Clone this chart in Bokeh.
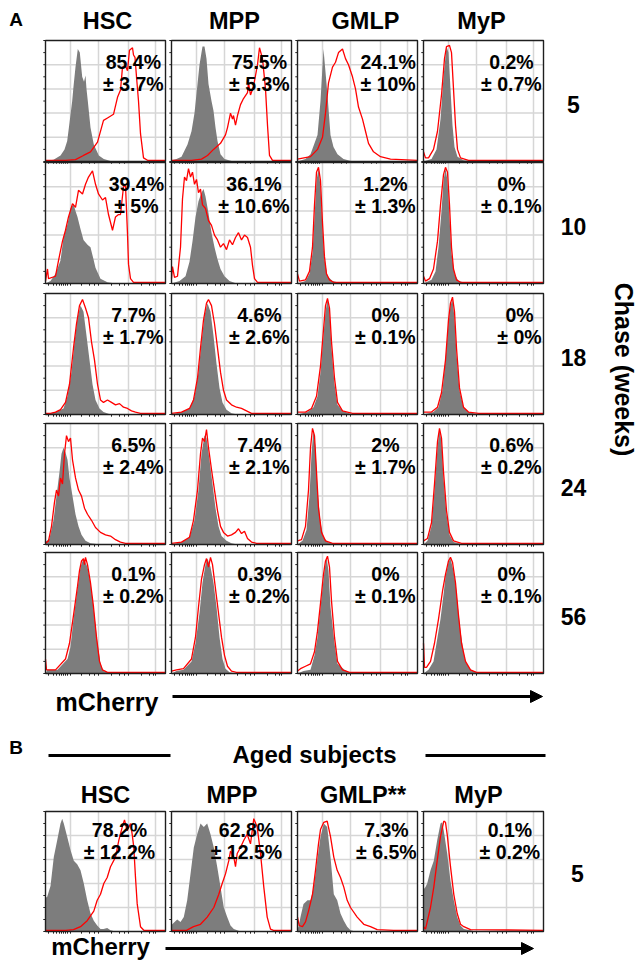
import math
from bokeh.plotting import figure
from bokeh.models import Range1d, Arrow, NormalHead
from bokeh.core.properties import value
from bokeh.embed import file_html
from bokeh.resources import INLINE

# ---------------- data ----------------
populations = ["HSC", "MPP", "GMLP", "MyP"]
aged_populations = ["HSC", "MPP", "GMLP**", "MyP"]
chase_weeks = [5, 10, 18, 24, 56]
aged_weeks = [5]

mean_5 = [85.4, 75.5, 24.1, 0.2];  sd_5 = [3.7, 5.3, 10, 0.7]
mean_10 = [39.4, 36.1, 1.2, 0];    sd_10 = [5, 10.6, 1.3, 0.1]
mean_18 = [7.7, 4.6, 0, 0];        sd_18 = [1.7, 2.6, 0.1, 0]
mean_24 = [6.5, 7.4, 2, 0.6];      sd_24 = [2.4, 2.1, 1.7, 0.2]
mean_56 = [0.1, 0.3, 0, 0];        sd_56 = [0.2, 0.2, 0.1, 0.1]
mean_aged = [78.2, 62.8, 7.3, 0.1]; sd_aged = [12.2, 12.5, 6.5, 0.2]

# histograms: (channel 0-120 on logicle axis, % of max count)
HSC_5_ctrl = [(0,0.5),(8,1.5),(15,5),(19,10),(21.7,17),(24,32),(26.7,50),(28,62),(30,78),(32.3,93),(34.3,90),(35.5,80),(36.7,70),(38.5,66),(40,71),(41,60),(42.3,50),(45,28),(48.3,14),(53.3,5),(58.3,2),(65,0.5),(75,0)]
HSC_5_mch = [(0,1),(20,1),(30,1.5),(38,5),(45,8),(52,16),(56,28),(58,34),(62,36),(68,39),(72,53),(75,59),(77,78),(80,79),(82,75),(84,92),(87,94),(88,88),(89.5,86),(91,70),(93,50),(95,23),(98,3),(102,1),(120,1)]
MPP_5_ctrl = [(0,1),(5,2),(10,4),(16,14),(20,25),(23,40),(26,64),(28,80),(30,90),(31,95),(33,95),(35,85),(37,64),(40,50),(42,42),(44,28),(46,17),(49,6),(53,2),(60,0.5),(70,0)]
MPP_5_mch = [(0,1),(20,1),(30,2),(36,5),(42,10),(49,15),(54,22),(56,28),(59,40),(61,35),(62,38),(64,30),(66,38),(69,47),(72,52),(76,57),(77,65),(79,55),(82,62),(86,80),(88,94),(91,85),(94,60),(96,30),(98,5),(101,1),(120,1)]
GMLP_5_ctrl = [(0,0),(8,2),(13,6),(20,22),(23,50),(26,93),(30,55),(33,22),(36,12),(40,6),(46,2),(55,0)]
GMLP_5_mch = [(0,2),(13,4),(20,10),(25,20),(28,40),(31,65),(35,78),(38,82),(41,90),(45,93),(48,85),(51,80),(55,70),(58,60),(61,45),(65,35),(68,25),(71,15),(76,8),(83,4),(93,2),(120,1)]
MyP_5_ctrl = [(0,0),(8,2),(13,10),(17,35),(20,70),(23,95),(25,90),(27,60),(29,30),(31,12),(34,4),(40,1),(50,0)]
MyP_5_mch = [(0,8),(2,3),(5,3),(10,10),(14,25),(18,55),(21,85),(23,95),(26,96),(28,90),(30,60),(32,30),(34,10),(37,3),(45,1),(120,1)]

HSC_10_ctrl = [(0,0),(5,2),(10,8),(15,19),(18,38),(22,49),(25,62),(28,66),(30,60),(32,55),(35,45),(38,36),(42,32),(45,30),(48,20),(50,13),(55,4),(62,1),(70,0)]
HSC_10_mch = [(0,2),(2,12),(3,4),(10,6),(13,19),(17,35),(20,44),(23,55),(27,66),(30,63),(33,77),(37,74),(40,82),(43,88),(47,93),(50,82),(53,74),(57,69),(60,71),(63,57),(67,44),(70,55),(73,57),(75,57),(78,80),(80,81),(82,41),(83,16),(85,4),(88,1),(120,1)]
MPP_10_ctrl = [(0,0),(8,2),(14,6),(18,18),(21,35),(24,55),(27,68),(30,75),(32,78),(34,72),(37,58),(40,42),(43,30),(46,20),(49,12),(53,6),(58,2),(65,0)]
MPP_10_mch = [(0,4),(1,14),(3,5),(6,6),(9,30),(11,70),(13,88),(15,85),(17,95),(19,88),(21,92),(23,82),(25,86),(27,75),(29,78),(31,65),(34,62),(37,52),(40,48),(43,40),(46,36),(49,30),(52,33),(55,28),(58,36),(61,32),(64,38),(67,42),(70,36),(73,40),(76,38),(79,30),(81,15),(83,4),(86,1),(120,1)]
GMLP_10_ctrl = [(0,0),(8,2),(12,8),(15,25),(17,55),(19,85),(21,95),(23,80),(25,45),(27,20),(30,6),(35,2),(45,0)]
GMLP_10_mch = [(0,8),(2,2),(8,3),(12,10),(15,30),(17,65),(19,92),(21,96),(23,85),(25,50),(27,22),(29,8),(32,3),(36,1),(120,1)]
MyP_10_ctrl = [(0,0),(8,3),(12,10),(15,30),(18,60),(20,85),(22,95),(24,85),(26,55),(28,25),(31,8),(35,2),(45,0)]
MyP_10_mch = [(0,6),(2,2),(6,4),(10,12),(14,35),(17,65),(20,90),(22,96),(24,92),(26,65),(28,30),(30,12),(33,3),(37,1),(120,1)]

HSC_18_ctrl = [(0,0),(10,2),(18,5),(22,15),(26,35),(29,60),(32,80),(35,90),(38,85),(41,65),(44,45),(47,25),(50,12),(54,5),(58,2),(65,0)]
HSC_18_mch = [(0,1),(5,1),(10,2),(15,4),(20,10),(24,25),(28,55),(31,75),(34,90),(37,95),(40,88),(43,80),(46,60),(49,45),(52,25),(55,12),(58,10),(62,12),(66,10),(70,8),(74,9),(78,6),(82,5),(86,3),(90,2),(95,1),(120,1)]
MPP_18_ctrl = [(0,0),(10,2),(18,5),(23,15),(27,35),(30,60),(33,82),(36,92),(39,85),(42,65),(45,42),(48,22),(51,10),(55,4),(60,1),(66,0)]
MPP_18_mch = [(0,1),(10,2),(18,5),(22,12),(26,30),(29,55),(32,78),(35,92),(37,95),(40,90),(43,75),(46,55),(49,35),(52,20),(55,12),(60,8),(65,6),(70,5),(75,3),(80,1),(120,1)]
GMLP_18_ctrl = [(0,0),(10,2),(16,6),(20,15),(23,35),(26,65),(28,85),(30,95),(32,85),(34,55),(37,25),(40,8),(45,3),(55,0)]
GMLP_18_mch = [(0,2),(8,2),(14,5),(19,15),(23,40),(26,70),(28,90),(30,96),(32,88),(34,60),(37,30),(40,10),(45,3),(55,1),(120,1)]
MyP_18_ctrl = [(0,0),(10,2),(15,6),(19,20),(22,45),(25,75),(27,90),(29,95),(31,80),(33,50),(36,20),(40,6),(45,2),(55,0)]
MyP_18_mch = [(0,2),(8,2),(14,6),(18,18),(22,45),(25,78),(27,92),(29,97),(31,85),(33,55),(36,22),(40,6),(45,2),(55,1),(120,1)]

HSC_24_ctrl = [(0,2),(4,5),(8,20),(11,40),(14,60),(16,75),(18,80),(20,76),(22,70),(24,55),(27,40),(30,25),(33,15),(36,8),(40,3),(45,1),(55,0)]
HSC_24_mch = [(0,1),(3,3),(6,15),(9,35),(11,45),(13,40),(15,55),(17,50),(19,75),(21,90),(23,85),(25,88),(27,70),(30,55),(33,45),(36,40),(39,30),(42,25),(46,20),(50,14),(55,10),(60,8),(65,7),(70,4),(75,2),(80,1),(120,1)]
MPP_24_ctrl = [(0,0),(10,2),(18,6),(23,20),(27,45),(30,75),(33,90),(35,88),(38,70),(41,50),(44,30),(47,15),(50,7),(55,3),(60,1),(66,0)]
MPP_24_mch = [(0,1),(10,2),(18,6),(22,20),(26,45),(29,75),(31,88),(33,85),(35,95),(37,80),(40,62),(43,45),(46,28),(49,15),(52,10),(56,7),(60,8),(64,10),(67,13),(70,9),(73,11),(76,5),(80,2),(85,1),(120,1)]
GMLP_24_ctrl = [(0,0),(5,3),(9,12),(12,40),(14,75),(16,95),(18,80),(20,45),(23,18),(26,6),(30,2),(40,0)]
GMLP_24_mch = [(0,3),(4,4),(8,15),(11,45),(13,80),(15,96),(17,90),(19,60),(21,30),(24,10),(28,3),(35,1),(120,1)]
MyP_24_ctrl = [(0,0),(4,3),(8,15),(11,45),(14,80),(16,95),(18,85),(20,55),(23,25),(26,8),(30,2),(40,0)]
MyP_24_mch = [(0,3),(4,5),(8,18),(11,50),(14,85),(16,96),(18,88),(20,60),(23,28),(26,10),(30,3),(38,1),(120,1)]

HSC_56_ctrl = [(0,0),(2,3),(12,3),(22,12),(25,22),(28,45),(32,70),(35,88),(38,95),(42,88),(45,75),(48,55),(52,25),(55,8),(58,2),(62,1),(70,0)]
HSC_56_mch = [(0,12),(1,3),(10,3),(20,12),(24,25),(28,48),(32,72),(34,85),(36,93),(38,95),(39,90),(40,96),(42,90),(45,75),(48,55),(51,30),(54,10),(57,3),(62,1),(120,1)]
MPP_56_ctrl = [(0,0),(5,2),(12,3),(20,10),(24,25),(28,50),(31,75),(34,90),(36,95),(39,88),(42,75),(45,55),(48,30),(51,12),(54,4),(58,1),(65,0)]
MPP_56_mch = [(0,2),(5,3),(12,4),(20,12),(24,30),(27,55),(30,78),(33,90),(35,95),(37,88),(39,96),(41,90),(44,70),(47,50),(50,30),(53,15),(56,6),(60,2),(65,1),(120,1)]
GMLP_56_ctrl = [(0,0),(6,2),(13,3),(17,15),(20,30),(23,55),(27,85),(29,96),(31,85),(33,55),(37,25),(40,8),(47,3),(53,0.5),(60,0)]
GMLP_56_mch = [(0,2),(3,4),(8,6),(13,8),(17,18),(20,35),(23,58),(26,82),(28,93),(30,97),(32,88),(34,60),(37,30),(40,10),(45,3),(52,1),(120,1)]
MyP_56_ctrl = [(0,0),(5,3),(10,10),(14,30),(17,45),(20,65),(22,80),(25,92),(27,95),(30,85),(32,75),(35,50),(37,35),(40,18),(42,10),(47,3),(53,1),(60,0)]
MyP_56_mch = [(0,25),(1,5),(3,5),(7,10),(11,25),(15,45),(19,68),(22,82),(25,93),(27,96),(29,92),(32,75),(35,48),(38,25),(42,10),(47,3),(53,1),(120,1)]

HSCa_ctrl = [(0,28),(1.7,29),(5,38),(8.3,62),(11.7,76),(15,90),(16.7,94),(18.3,90),(21.7,79),(25,68),(28.3,59),(31.7,56),(35,51),(38.3,40),(41.7,26),(45,15),(48.3,9),(51.7,5),(55,2),(58,2),(61.7,3),(65,1),(70,0)]
HSCa_mch = [(0,1),(20,1),(28,1.5),(35,4),(41.7,9),(48.3,17),(51.7,26),(55,31),(58.3,40),(61.7,45),(65,54),(70,62),(73.3,76),(76.7,87),(79,93),(81.7,84),(85,90),(86.7,81),(88.3,70),(90,45),(91.7,23),(95,4),(98.3,1),(120,1)]
MPPa_ctrl = [(0,5),(0.7,6),(5.7,10),(9,8),(12.3,12),(15.7,26),(19,48),(22.3,70),(25.7,81),(29,90),(32.3,87),(35.7,90),(39,81),(42.3,70),(45.7,54),(49,37),(52.3,20),(55.7,12),(59,5),(62.3,2),(69,0)]
MPPa_mch = [(0,1),(15,1),(22,4),(29,6),(35.7,12),(42.3,20),(47.3,31),(50.7,40),(54,48),(57.3,59),(59,67),(62.3,62),(64,54),(65.7,65),(69,70),(72.3,76),(75.7,81),(79,73),(82.3,94),(85.7,87),(89,65),(92.3,37),(95.7,12),(99,2),(102,1),(120,1)]
GMLPa_ctrl = [(0,2),(1,4),(3,12),(6,23),(10,26),(13,26),(16.3,37),(19.7,59),(23,79),(26.3,90),(29.7,87),(33,62),(36.3,31),(39.7,26),(43,15),(46.3,9),(49.7,4),(53,1),(58,0)]
GMLPa_mch = [(0,12),(1.7,5),(5,4),(8,8),(11,17),(15,31),(18,51),(21,73),(23,85),(26.3,91),(29.7,92),(33,79),(36.3,62),(39.7,51),(43,45),(46.3,37),(49.7,26),(53,20),(59.7,12),(66.3,6),(73,4),(79.7,1.5),(96,1),(120,1)]
MyPa_ctrl = [(0,35),(2,37),(3.7,40),(7,51),(10.3,59),(13.7,76),(17,90),(18.7,91),(20.3,84),(23.7,65),(27,42),(30.3,26),(33.7,12),(37,5),(40.3,2),(47,1),(52,0)]
MyPa_mch = [(0,4),(2,2),(7,20),(10.3,37),(13.7,59),(17,79),(20.3,92),(22,91),(23.7,81),(27,54),(30.3,31),(33.7,15),(37,6),(40.3,4),(47,1.5),(120,1)]

grid_channels = [25, 53, 83, 110]
grid_counts = [20, 40, 60, 80]
minor_channels = [3, 8, 11, 14, 16, 18, 20, 22, 25, 36, 44, 49, 53, 66, 74, 79, 83, 96, 104, 108, 110]

# ---------------- layout (reference pixel coordinates) ----------------
W, H = 640, 966
X0, X1 = 0, W
Y0, Y1 = 0, H
COL_L = [45, 171, 297, 423]
PW = 120
ROW_T = [40, 162, 293, 423, 552]
PH = 121
B_T = 811
PH_B = 120

p = figure(width=W, height=H, x_range=Range1d(X0, X1), y_range=Range1d(Y1, Y0),
           x_axis_location=None, y_axis_location=None, toolbar_location=None,
           output_backend="svg", min_border=0)
p.outline_line_color = None
p.grid.visible = False
p.background_fill_color = "white"

FONT = value("Liberation Sans")

def add_ranges(name, left, top, height):
    # channel 0..120 -> [left, left+PW], count 0..100 -> [top+height, top]
    cx = lambda xr: 120.0 * (xr - left) / PW
    cy = lambda yr: 100.0 * (top + height - yr) / height
    p.extra_x_ranges["x" + name] = Range1d(cx(X0), cx(X1))
    p.extra_y_ranges["y" + name] = Range1d(cy(Y1), cy(Y0))
    return "x" + name, "y" + name

def draw_panel(name, left, top, height, ctrl, mch):
    xr, yr = add_ranges(name, left, top, height)
    kw = dict(x_range_name=xr, y_range_name=yr)
    # grid
    p.segment(x0=grid_channels, y0=[0]*4, x1=grid_channels, y1=[100]*4,
              line_color="#d6d6d6", line_width=1.5, **kw)
    p.segment(x0=[0]*4, y0=grid_counts, x1=[120]*4, y1=grid_counts,
              line_color="#d6d6d6", line_width=1.5, **kw)
    # control (filled grey)
    gx = [a for a, b in ctrl]; gy = [b for a, b in ctrl]
    p.varea(x=gx, y1=[0]*len(gx), y2=gy, fill_color="#7d7d7d", **kw)
    # mCherry (red outline)
    rx = [a for a, b in mch]; ry = [b for a, b in mch]
    p.line(x=rx, y=ry, line_color="#ff0000", line_width=1.3, **kw)
    # ticks
    ticks = list(range(0, 101, 10))
    p.segment(x0=[0]*len(ticks), y0=ticks, x1=[-2.2]*len(ticks), y1=ticks,
              line_color="#222222", line_width=1, **kw)
    p.segment(x0=minor_channels, y0=[0]*len(minor_channels), x1=minor_channels,
              y1=[-1.8]*len(minor_channels), line_color="#222222", line_width=1, **kw)
    # frame
    p.quad(left=[0], right=[120], bottom=[0], top=[100], fill_color=None,
           line_color="#1e1e1e", line_width=1.4, **kw)

CW = {'.': 0.278, '%': 0.889, '±': 0.584, ' ': 0.278}
def text_w(s, size):
    return sum(CW.get(c, 0.556) for c in s) * size

rows = [
    (5, mean_5, sd_5, [HSC_5_ctrl, MPP_5_ctrl, GMLP_5_ctrl, MyP_5_ctrl], [HSC_5_mch, MPP_5_mch, GMLP_5_mch, MyP_5_mch]),
    (10, mean_10, sd_10, [HSC_10_ctrl, MPP_10_ctrl, GMLP_10_ctrl, MyP_10_ctrl], [HSC_10_mch, MPP_10_mch, GMLP_10_mch, MyP_10_mch]),
    (18, mean_18, sd_18, [HSC_18_ctrl, MPP_18_ctrl, GMLP_18_ctrl, MyP_18_ctrl], [HSC_18_mch, MPP_18_mch, GMLP_18_mch, MyP_18_mch]),
    (24, mean_24, sd_24, [HSC_24_ctrl, MPP_24_ctrl, GMLP_24_ctrl, MyP_24_ctrl], [HSC_24_mch, MPP_24_mch, GMLP_24_mch, MyP_24_mch]),
    (56, mean_56, sd_56, [HSC_56_ctrl, MPP_56_ctrl, GMLP_56_ctrl, MyP_56_ctrl], [HSC_56_mch, MPP_56_mch, GMLP_56_mch, MyP_56_mch]),
]

PCT = 19.5
txt_x, txt_y, txt_s = [], [], []

for i, (wk, means, sds, ctrls, mchs) in enumerate(rows):
    top = ROW_T[i]
    for j in range(4):
        draw_panel(f"{i}_{j}", COL_L[j], top, PH, ctrls[j], mchs[j])
        l1 = f"{means[j]:g}%"; l2 = f"± {sds[j]:g}%"
        w = max(text_w(l1, PCT), text_w(l2, PCT))
        cx = COL_L[j] + PW - 1.5 - w / 2
        txt_x += [cx, cx]; txt_y += [top + 21, top + 43]; txt_s += [l1, l2]

aged_ctrl = [HSCa_ctrl, MPPa_ctrl, GMLPa_ctrl, MyPa_ctrl]
aged_mch = [HSCa_mch, MPPa_mch, GMLPa_mch, MyPa_mch]
aged_margin = [10, 9, 0.5, 3]
for j in range(4):
    draw_panel(f"b_{j}", COL_L[j], B_T, PH_B, aged_ctrl[j], aged_mch[j])
    l1 = f"{mean_aged[j]:g}%"; l2 = f"± {sd_aged[j]:g}%"
    w = max(text_w(l1, PCT), text_w(l2, PCT))
    cx = COL_L[j] + PW - aged_margin[j] - w / 2
    txt_x += [cx, cx]; txt_y += [B_T + 18, B_T + 40]; txt_s += [l1, l2]

p.text(x=txt_x, y=txt_y, text=txt_s, text_font=FONT, text_font_style="bold",
       text_font_size=f"{PCT}px", text_align="center", text_baseline="middle", text_color="black")

# column titles
title_x_a = [107, 234, 365, 481]
title_x_b = [105, 231.5, 362.5, 478]
p.text(x=title_x_a, y=[20]*4, text=populations, text_font=FONT, text_font_style="bold",
       text_font_size="23.5px", text_align="center", text_baseline="middle")
p.text(x=title_x_b, y=[794]*4, text=aged_populations, text_font=FONT, text_font_style="bold",
       text_font_size="23.5px", text_align="center", text_baseline="middle")

# row labels
p.text(x=[573]*5, y=[t + PH / 2 + 3 for t in ROW_T], text=[str(w) for w in chase_weeks],
       text_font=FONT, text_font_style="bold", text_font_size="23px",
       text_align="center", text_baseline="middle")
p.text(x=[577], y=[B_T + PH_B / 2 + 2], text=[str(w) for w in aged_weeks],
       text_font=FONT, text_font_style="bold", text_font_size="23px",
       text_align="center", text_baseline="middle")

p.text(x=[623], y=[369], text=["Chase (weeks)"], angle=-math.pi / 2, text_font=FONT,
       text_font_style="bold", text_font_size="25px", text_align="center", text_baseline="middle")

# panel letters
p.text(x=[15.5], y=[18.5], text=["A"], text_font=FONT, text_font_style="bold",
       text_font_size="19px", text_align="center", text_baseline="middle")
p.text(x=[15.5], y=[747], text=["B"], text_font=FONT, text_font_style="bold",
       text_font_size="19px", text_align="center", text_baseline="middle")

# aged header
p.text(x=[314], y=[754], text=["Aged subjects"], text_font=FONT, text_font_style="bold",
       text_font_size="24px", text_align="center", text_baseline="middle")
p.segment(x0=[48, 425], y0=[755, 755], x1=[170, 545], y1=[755, 755], line_color="black", line_width=3)

# mCherry axis labels and arrows
p.text(x=[106.5], y=[701], text=["mCherry"], text_font=FONT, text_font_style="bold",
       text_font_size="25px", text_align="center", text_baseline="alphabetic")
p.text(x=[100], y=[946], text=["mCherry"], text_font=FONT, text_font_style="bold",
       text_font_size="24px", text_align="center", text_baseline="middle")
p.add_layout(Arrow(end=NormalHead(size=12, fill_color="black", line_color="black"),
                   x_start=172, y_start=696, x_end=542, y_end=696, line_width=3, line_color="black"))
p.add_layout(Arrow(end=NormalHead(size=12, fill_color="black", line_color="black"),
                   x_start=165, y_start=948, x_end=533, y_end=948, line_width=3, line_color="black"))

open("out.html", "w").write(file_html(p, INLINE))
